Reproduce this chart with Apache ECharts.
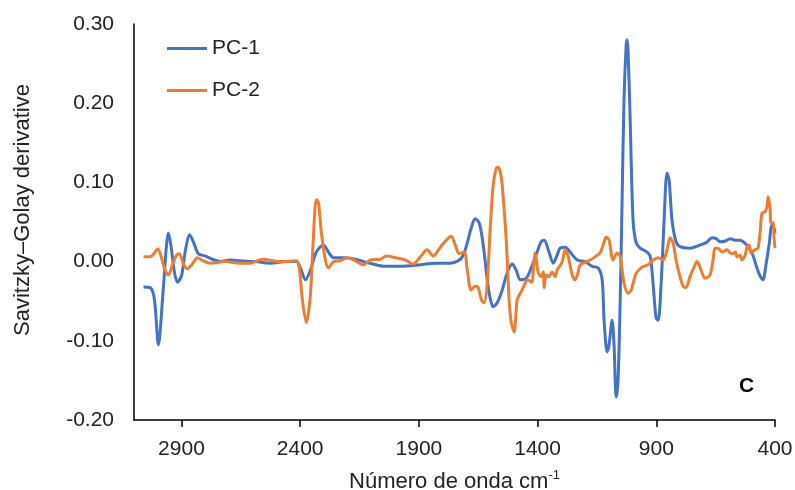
<!DOCTYPE html>
<html>
<head>
<meta charset="utf-8">
<script src="https://cdn.jsdelivr.net/npm/echarts@6/dist/echarts.min.js"></script>
<style>
html,body{margin:0;padding:0;background:#fff;}
#chart{width:795px;height:490px;}
</style>
</head>
<body>
<div id="chart"></div>
<script>
// Wavenumber ticks (cm-1)
const xTicks = [400, 900, 1400, 1900, 2400, 2900];

// PC-1 (blue)
const pc1Wavenumber = [3060,3031,3014,2997,2980,2963,2955,2942,2930,2917,2900,2883,2866,2850,2829,2799,2770,2736,2694,2652,2589,2526,2462,2416,2399,2378,2357,2332,2302,2281,2260,2210,2168,2105,2041,1978,1894,1831,1768,1734,1713,1696,1680,1663,1646,1629,1612,1600,1587,1570,1549,1528,1507,1490,1473,1448,1427,1402,1385,1372,1355,1334,1318,1305,1284,1263,1233,1200,1170,1145,1128,1120,1107,1099,1086,1078,1069,1061,1052,1044,1036,1027,1023,1019,1010,998,985,968,943,926,913,901,892,880,867,855,846,834,817,800,758,716,690,665,648,631,610,589,568,547,526,509,493,476,463,451,438,425,413,404,400];
const pc1Values = [-0.032,-0.033,-0.048,-0.105,-0.048,0.021,0.036,0.015,-0.013,-0.026,-0.018,0.015,0.034,0.025,0.010,0.007,0.003,0.000,0.002,0.001,0.000,-0.002,0.000,0.000,-0.008,-0.023,-0.011,0.012,0.021,0.012,0.005,0.005,0.003,-0.002,-0.006,-0.006,-0.004,-0.002,-0.002,0.001,0.008,0.024,0.042,0.054,0.049,0.021,-0.023,-0.046,-0.057,-0.052,-0.036,-0.014,-0.003,-0.011,-0.023,-0.021,-0.008,0.012,0.025,0.027,0.015,-0.002,0.008,0.017,0.018,0.012,0.002,0.000,-0.006,-0.008,-0.023,-0.074,-0.114,-0.105,-0.074,-0.105,-0.171,-0.149,-0.048,0.078,0.204,0.273,0.280,0.267,0.179,0.053,0.024,0.017,0.013,0.007,-0.030,-0.071,-0.074,-0.030,0.053,0.112,0.103,0.053,0.025,0.019,0.017,0.021,0.024,0.030,0.029,0.025,0.026,0.029,0.027,0.027,0.023,0.017,0.008,-0.008,-0.018,-0.023,-0.004,0.021,0.046,0.042,0.036];

// PC-2 (orange)
const pc2Wavenumber = [3060,3031,3014,3001,2989,2972,2955,2938,2921,2909,2892,2875,2854,2833,2808,2780,2717,2652,2610,2559,2483,2416,2404,2391,2374,2357,2345,2332,2323,2311,2294,2281,2260,2231,2201,2168,2134,2105,2063,2037,1999,1957,1924,1894,1865,1840,1810,1785,1764,1747,1730,1709,1696,1680,1663,1650,1637,1625,1612,1600,1587,1574,1566,1557,1549,1532,1520,1511,1499,1486,1473,1456,1444,1423,1419,1410,1398,1385,1376,1372,1364,1351,1339,1326,1318,1297,1284,1271,1254,1242,1229,1221,1200,1179,1158,1137,1124,1111,1099,1082,1065,1052,1036,1019,1006,985,960,935,913,892,871,855,842,829,817,800,787,775,758,741,728,711,695,674,661,653,640,623,602,589,577,568,560,547,539,526,518,509,501,484,472,463,455,442,434,429,421,417,408,404,400];
const pc2Values = [0.006,0.006,0.011,0.016,0.010,-0.008,-0.017,-0.004,0.008,0.010,-0.003,-0.009,-0.003,0.005,0.001,-0.002,0.000,-0.002,-0.002,0.003,0.000,0.001,-0.008,-0.048,-0.077,-0.042,0.027,0.078,0.075,0.037,0.002,-0.008,0.000,0.001,0.005,0.001,-0.004,0.002,0.003,0.007,0.005,0.002,-0.003,0.006,0.015,0.007,0.018,0.027,0.032,0.021,0.010,0.012,-0.011,-0.036,-0.031,-0.033,-0.048,-0.052,-0.027,0.040,0.097,0.118,0.119,0.113,0.097,0.027,-0.048,-0.077,-0.089,-0.048,-0.040,-0.030,-0.023,-0.026,-0.013,0.011,-0.013,-0.019,-0.013,-0.033,-0.017,-0.019,-0.013,-0.019,-0.011,-0.001,0.015,0.006,-0.017,-0.023,-0.013,-0.004,-0.001,0.002,0.006,0.011,0.021,0.031,0.027,0.002,0.011,0.006,-0.027,-0.040,-0.036,-0.015,-0.007,-0.004,0.002,0.005,0.002,0.015,0.030,0.023,0.002,-0.019,-0.031,-0.033,-0.019,-0.007,0.000,-0.011,-0.021,-0.017,0.002,0.017,0.017,0.012,0.015,0.011,0.010,0.012,0.006,0.008,0.002,0.008,0.018,0.021,0.011,0.015,0.017,0.036,0.061,0.063,0.069,0.082,0.068,0.049,0.049,0.030,0.017];

const pair = (xs, ys) => xs.map((x, i) => [x, ys[i]]);

const FONT = '"Liberation Sans", Arial, sans-serif';
const chart = echarts.init(document.getElementById('chart'), null, {renderer: 'canvas'});
chart.setOption({
  animation: false,
  backgroundColor: '#ffffff',
  textStyle: {fontFamily: FONT},
  grid: {left: 134, right: 20, top: 24, bottom: 70, containLabel: false, outerBoundsMode: 'none'},
  legend: {
    orient: 'vertical',
    left: 162,
    top: 33,
    itemWidth: 40,
    itemHeight: 3,
    itemGap: 21,
    icon: 'rect',
    textStyle: {fontFamily: FONT, fontSize: 21, color: '#222'},
    data: ['PC-1', 'PC-2']
  },
  xAxis: {
    type: 'value',
    min: 400,
    max: 3100,
    inverse: true,
    name: '{a|Número de onda cm}{s|-1}',
    nameLocation: 'middle',
    nameGap: 49,
    nameTextStyle: {
      fontFamily: FONT,
      color: '#222',
      rich: {
        a: {fontFamily: FONT, fontSize: 22, color: '#222', lineHeight: 26},
        s: {fontFamily: FONT, fontSize: 13, color: '#222', verticalAlign: 'top', lineHeight: 26, padding: [0, 0, 12, 0]}
      }
    },
    axisLine: {onZero: false, lineStyle: {color: '#000', width: 1.5}},
    axisTick: {show: true, length: 7, inside: false, customValues: xTicks, lineStyle: {color: '#000', width: 1.5}},
    axisLabel: {customValues: xTicks, fontFamily: FONT, fontSize: 21, color: '#222', margin: 19, formatter: v => String(v)},
    splitLine: {show: false}
  },
  yAxis: {
    type: 'value',
    min: -0.2,
    max: 0.3,
    interval: 0.1,
    name: 'Savitzky–Golay derivative',
    nameLocation: 'middle',
    nameGap: 100,
    nameTextStyle: {fontFamily: FONT, fontSize: 22, color: '#222', padding: [0, 0, 0, 24]},
    axisLine: {show: true, onZero: false, lineStyle: {color: '#000', width: 1.5}},
    axisTick: {show: false},
    axisLabel: {fontFamily: FONT, fontSize: 21, color: '#222', margin: 20, formatter: v => v.toFixed(2)},
    splitLine: {show: false}
  },
  series: [
    {
      name: 'PC-1', type: 'line', data: pair(pc1Wavenumber, pc1Values),
      showSymbol: false, smooth: 0.3,
      lineStyle: {color: '#4472C4', width: 3}, itemStyle: {color: '#4472C4'}
    },
    {
      name: 'PC-2', type: 'line', data: pair(pc2Wavenumber, pc2Values),
      showSymbol: false, smooth: 0.3,
      lineStyle: {color: '#ED7D31', width: 3}, itemStyle: {color: '#ED7D31'}
    }
  ],
  graphic: [
    {type: 'text', left: 739, top: 376, style: {text: 'C', font: 'bold 21px "Liberation Sans", Arial, sans-serif', fill: '#000'}}
  ]
});
</script>
</body>
</html>
